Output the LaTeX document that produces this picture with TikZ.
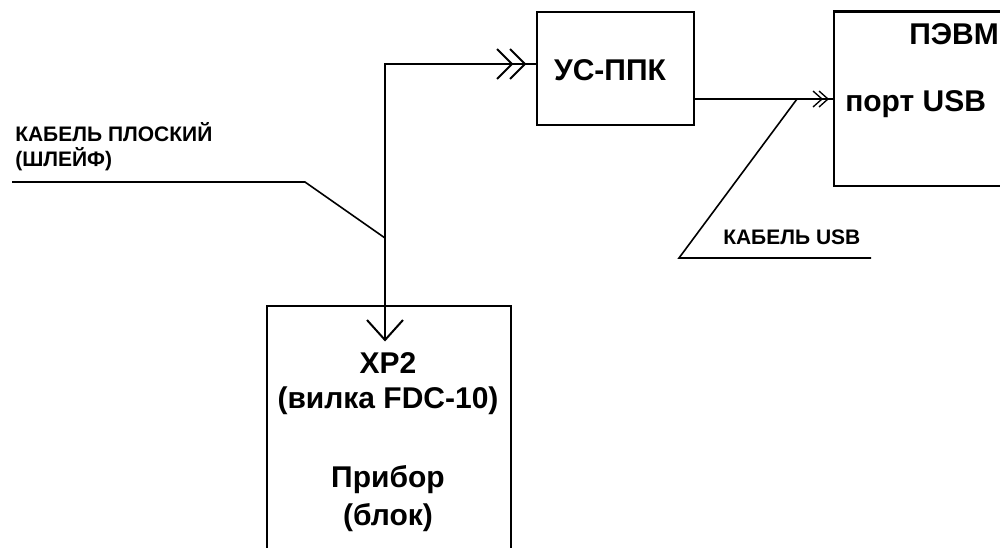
\documentclass[tikz,border=0pt]{standalone}
\usepackage{fontspec}
\setmainfont{Liberation Sans}
\usetikzlibrary{calc}
\begin{document}
\begin{tikzpicture}[x=0.75pt,y=-0.75pt,
  box/.style={draw,line width=1.6pt,inner sep=0pt,outer sep=0pt},
  wire/.style={line width=1.5pt},
  thinwire/.style={line width=1pt},
  lead/.style={line width=1.2pt},
  big/.style={font=\fontsize{22.5}{27}\selectfont\bfseries},
  small/.style={font=\fontsize{15.75}{19}\selectfont\bfseries},
  lbl/.style={inner sep=0pt,anchor=base west},
  ctr/.style={inner sep=0pt,anchor=base}]
\clip (0,0) rectangle (1000,547);
% boxes
\node[box,minimum width=157*0.75pt,minimum height=113*0.75pt] (ppk) at (615.5,68.5) {};
\node[box,minimum width=266*0.75pt,minimum height=174.5*0.75pt] (pc) at (967,98.75) {};
\node[box,minimum width=244*0.75pt,minimum height=314*0.75pt] (dev) at (389,463) {};
% texts
\node[big,ctr] (ppkt) at (610,80) {УС-ППК};
\node[big,lbl] (pct) at (909,44) {ПЭВМ};
\node[big,lbl] (port) at (845,111) {порт USB};
\node[big,ctr] (xp) at (388,373) {XP2};
\node[big,ctr] (fdc) at (388,408.5) {(вилка FDC-10)};
\node[big,ctr] (prib) at (388,487) {Прибор};
\node[big,ctr] (blok) at (388,525) {(блок)};
\node[small,lbl] (flat1) at (15,141) {КАБЕЛЬ ПЛОСКИЙ};
\node[small,lbl] (flat2) at (15,166) {(ШЛЕЙФ)};
\node[small,lbl] (usbl) at (723,244) {КАБЕЛЬ USB};
% flat cable
\coordinate (turn) at (385,64);
\coordinate (tip) at (385,340);
\coordinate (pin) at (ppk.west |- turn);
\draw[wire] (tip) -- (turn) -- (pin);
\draw[wire] ($(pin)+(-40,-15)$) -- ($(pin)+(-25,0)$) -- ($(pin)+(-40,15)$);
\draw[wire] ($(pin)+(-27,-15)$) -- ($(pin)+(-12,0)$) -- ($(pin)+(-27,15)$);
\draw[wire] ($(tip)+(-18,-20)$) -- (tip) -- ($(tip)+(18,-20)$);
% usb cable
\coordinate (uy) at (0,99);
\coordinate (uin) at (pc.west |- uy);
\draw[wire] (ppk.east |- uy) -- (uin);
\draw[thinwire] ($(uin)+(-21,-8)$) -- ($(uin)+(-12,0)$) -- ($(uin)+(-21,8)$);
\draw[thinwire] ($(uin)+(-15,-8)$) -- ($(uin)+(-6,0)$) -- ($(uin)+(-15,8)$);
% leaders
\coordinate (fl0) at (12,182);
\coordinate (fl1) at (305,182);
\coordinate (fl2) at (385,238);
\draw[lead] (fl0) -- (fl1) -- (fl2);
\coordinate (ul0) at (797,99);
\coordinate (ul1) at (679,258);
\coordinate (ul2) at (871,258);
\draw[lead] (ul0) -- (ul1) -- (ul2);
\end{tikzpicture}
\end{document}
